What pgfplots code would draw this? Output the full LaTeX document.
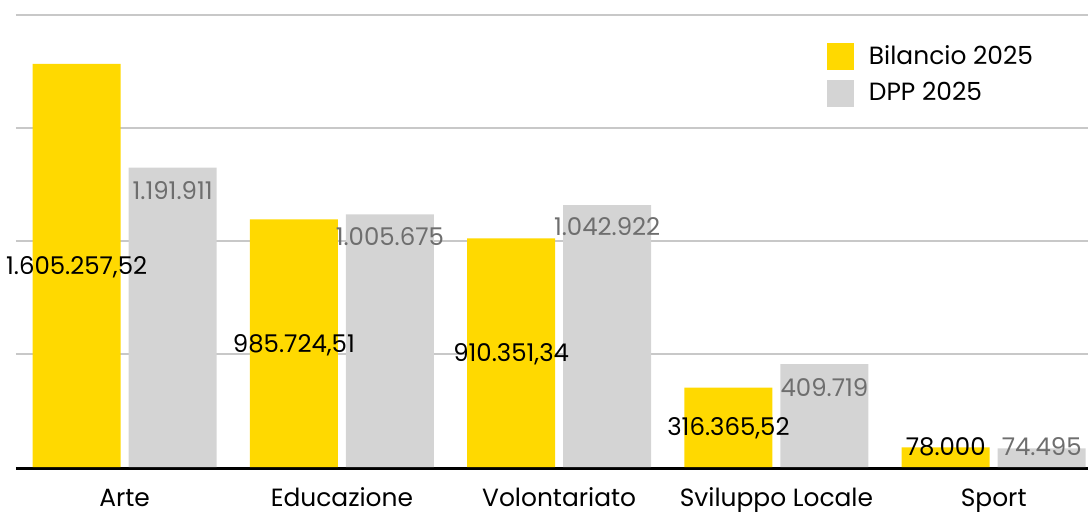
\documentclass[border=0pt]{standalone}
\usepackage{pgfplots}
\pgfplotsset{compat=1.18}
\usepackage{fontspec}
\setmainfont{Poppins}
\definecolor{giallo}{RGB}{255,217,0}
\definecolor{grigio}{RGB}{212,212,212}
\definecolor{grigiotesto}{RGB}{110,110,110}
\definecolor{gridc}{RGB}{200,200,200}
\begin{document}
\begin{tikzpicture}
\path[use as bounding box] (0,0) rectangle (1088bp,512bp);
\begin{axis}[
  at={(16bp,45bp)}, anchor=south west,
  scale only axis, width=1072bp, height=452bp,
  ybar=8bp, bar width=88bp,
  xmin=-0.5, xmax=4.434, ymin=0, ymax=1800000,
  xtick={0,1,2,3,4},
  xticklabels={Arte,Educazione,Volontariato,Sviluppo Locale,Sport},
  xticklabel style={anchor=base, yshift=-39bp, font=\fontsize{25}{30}\selectfont},
  ytick={450000,900000,1350000,1800000},
  yticklabels={}, scaled y ticks=false,
  major tick length=0pt,
  ymajorgrids, grid style={gridc, line width=1.2bp},
  axis x line=bottom, axis y line=left,
  y axis line style={draw=none},
  x axis line style={black, line width=2.6bp, -, yshift=-1.3bp},
  every axis plot post/.append style={legend image code/.code={\fill[##1] (0bp,-14.5bp) rectangle (27bp,12.5bp);}},
  legend style={at={(0.7565,0.938)}, anchor=north west, draw=none, fill=none,
    inner sep=0pt, outer sep=0pt, row sep=10bp,
    font=\fontsize{25}{30}\selectfont,
    nodes={inner sep=0pt},
    /tikz/every odd column/.append style={column sep=15bp}},
  legend cell align=left,
  clip=false,
]
\addplot[fill=giallo, draw=none] coordinates {(0,1605257.52) (1,985724.51) (2,910351.34) (3,316365.52) (4,78000)};
\addplot[fill=grigio, draw=none] coordinates {(0,1191911) (1,1005675) (2,1042922) (3,409719) (4,74495)};
\legend{Bilancio 2025, DPP 2025}
\begin{scope}[font=\fontsize{24.5}{30}\selectfont]
\node[black] at (axis cs:-0.2209,796470) {1.605.257,52};
\node[black] at (axis cs:0.7791,485850) {985.724,51};
\node[black] at (axis cs:1.7791,450000) {910.351,34};
\node[black] at (axis cs:2.7791,155310) {316.365,52};
\node[black] at (axis cs:3.7791,79650) {78.000};
\node[grigiotesto] at (axis cs:0.2209,1099120) {1.191.911};
\node[grigiotesto] at (axis cs:1.2209,915930) {1.005.675};
\node[grigiotesto] at (axis cs:2.2209,955760) {1.042.922};
\node[grigiotesto] at (axis cs:3.2209,314600) {409.719};
\node[grigiotesto] at (axis cs:4.2209,79650) {74.495};
\end{scope}
\end{axis}
\end{tikzpicture}
\end{document}
